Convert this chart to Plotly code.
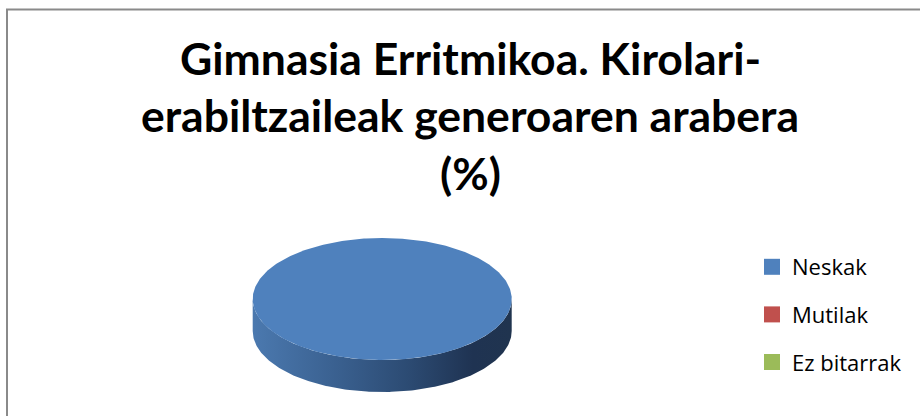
import numpy as np
import plotly.graph_objects as go

# ---- data ----
categories = ["Neskak", "Mutilak", "Ez bitarrak"]
values = [100, 0, 0]
colors = ["#4F81BD", "#C0504D", "#9BBB59"]
side_scales = [
    [[0, "#4b79af"], [0.3, "#3b6292"], [0.6, "#2c4b73"], [0.85, "#1f3352"], [1, "#20344f"]],
    [[0, "#c05a57"], [0.5, "#8a3835"], [1, "#5e2624"]],
    [[0, "#9bbb59"], [0.5, "#6e8840"], [1, "#4b5c2b"]],
]
title_lines = ["Gimnasia Erritmikoa. Kirolari-", "erabiltzaileak generoaren arabera", "(%)"]

# ---- geometry (pixel space) ----
W, H = 920, 416
cx, cy, rx, ry, depth = 382.2, 299.0, 129.5, 61.0, 32.0

fig = go.Figure()

total = float(sum(values))
start = 0.0
wedges = []
for name, v in zip(categories, values):
    frac = v / total
    a0, a1 = start, start + frac * 2 * np.pi
    start = a1
    wedges.append((name, frac, a0, a1))


def pt(a, dy=0.0):
    # clockwise from 12 o'clock, screen y down
    return cx + rx * np.sin(a), cy - ry * np.cos(a) + dy


# side faces
for (name, frac, a0, a1), sc in zip(wedges, side_scales):
    if frac <= 0:
        continue
    lo, hi = max(a0, np.pi / 2), min(a1, 3 * np.pi / 2)
    if hi <= lo:
        continue
    t = np.linspace(lo, hi, 200)
    xs_top, ys_top = pt(t)
    xs_bot, ys_bot = pt(t[::-1], depth)
    xs = np.concatenate([xs_top, xs_bot, xs_top[:1]])
    ys = np.concatenate([ys_top, ys_bot, ys_top[:1]])
    fig.add_trace(go.Scatter(
        x=xs, y=ys, mode="lines", line=dict(width=0), fill="toself",
        fillgradient=dict(type="horizontal", colorscale=sc),
        showlegend=False, hoverinfo="skip"))

# top faces
for (name, frac, a0, a1), col in zip(wedges, colors):
    if frac <= 0:
        continue
    t = np.linspace(a0, a1, 400)
    xs, ys = pt(t)
    if frac < 1:
        xs = np.concatenate([[cx], xs, [cx]])
        ys = np.concatenate([[cy], ys, [cy]])
    fig.add_trace(go.Scatter(
        x=xs, y=ys, mode="lines", line=dict(width=0, color=col), fill="toself",
        fillcolor=col, showlegend=False, hoverinfo="skip"))

# legend entries
for i, (name, col) in enumerate(zip(categories, colors)):
    fig.add_trace(go.Scatter(
        x=[None], y=[None], mode="markers", name=name, legendgroup=f"g{i}",
        marker=dict(symbol="square", size=18, color=col, line=dict(width=0))))

# title lines
tsize = 44.5
title_y = [75, 132, 190]
for txt, yb in zip(title_lines, title_y):
    fig.add_annotation(
        text=f"<b>{txt}</b>", x=470 / W, y=1 - (yb - 0.4 * tsize) / H,
        xref="paper", yref="paper",
        xanchor="center", yanchor="middle", showarrow=False,
        font=dict(family="Lato", size=tsize, color="#000000"))

# outer frame
fig.add_shape(type="rect", xref="paper", yref="paper",
              x0=7 / W, y0=-0.05, x1=1.05, y1=1 - 9.5 / H,
              line=dict(color="#8a8a8a", width=2), fillcolor="rgba(0,0,0,0)")

fig.update_layout(
    width=W, height=H, margin=dict(l=0, r=0, t=0, b=0),
    paper_bgcolor="white", plot_bgcolor="white",
    xaxis=dict(range=[0, W], visible=False, fixedrange=True),
    yaxis=dict(range=[H, 0], visible=False, fixedrange=True),
    showlegend=True,
    legend=dict(x=752 / W, y=1 - 246 / H, xanchor="left", yanchor="top",
                font=dict(family="Open Sans", size=22, color="#000000"),
                tracegroupgap=16, itemsizing="trace", bgcolor="rgba(0,0,0,0)"),
    hovermode=False,
)

fig.write_html("out.html", config={"displayModeBar": False},
               post_script="document.body.style.margin='0';")
